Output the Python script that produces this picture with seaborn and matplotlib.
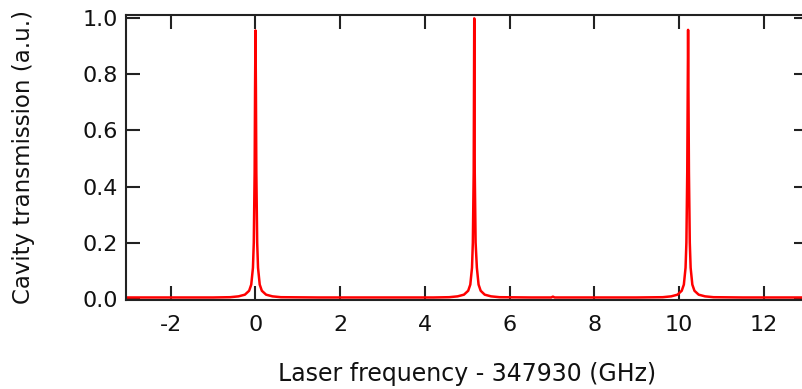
import matplotlib
matplotlib.use("Agg")
import matplotlib.pyplot as plt
import seaborn as sns
import pandas as pd

# cavity transmission trace (three resonances)
freq_ghz = [
    -3.06, -2.0, -1.0, -0.6, -0.4, -0.25, -0.15, -0.10, -0.06, -0.04, -0.02, -0.01,
    0.0, 0.01, 0.02, 0.04, 0.06, 0.10, 0.15, 0.25, 0.4, 0.6,
    1.5, 3.0, 4.2, 4.57, 4.77, 4.92, 5.02, 5.07, 5.11, 5.13, 5.15, 5.163,
    5.175, 5.195, 5.225, 5.265, 5.315, 5.41, 5.56, 5.76,
    6.5, 6.98, 7.02, 7.06, 8.0, 9.0, 9.61, 9.81, 9.96, 10.06, 10.11, 10.15,
    10.17, 10.19, 10.21, 10.23, 10.25, 10.27, 10.31, 10.36, 10.46, 10.61, 10.81,
    11.5, 12.3, 13.1,
]
transmission = [
    0.004, 0.004, 0.004, 0.005, 0.008, 0.014, 0.028, 0.05, 0.11, 0.2, 0.45, 0.75,
    0.957, 0.75, 0.45, 0.2, 0.11, 0.05, 0.028, 0.014, 0.008, 0.005,
    0.004, 0.004, 0.004, 0.005, 0.008, 0.014, 0.028, 0.05, 0.11, 0.2, 0.45, 1.0,
    0.45, 0.2, 0.11, 0.05, 0.028, 0.014, 0.008, 0.005,
    0.004, 0.004, 0.007, 0.004, 0.004, 0.004, 0.005, 0.008, 0.014, 0.028, 0.05, 0.11,
    0.2, 0.45, 0.959, 0.45, 0.2, 0.11, 0.05, 0.028, 0.014, 0.008, 0.005,
    0.004, 0.004, 0.004,
]
x_ticks = [-2, 0, 2, 4, 6, 8, 10, 12]
y_ticks = [0.0, 0.2, 0.4, 0.6, 0.8, 1.0]

df = pd.DataFrame({"freq": freq_ghz, "trans": transmission})

sns.set_theme(style="ticks")
plt.rcParams["font.family"] = ["DejaVu Sans"]

fig = plt.figure(figsize=(8.02, 3.89), dpi=100)
# right edge of the frame lies just outside the picture, as in the reference
ax = fig.add_axes([126 / 802, 89 / 389, (808 - 126) / 802, 285 / 389])

sns.lineplot(data=df, x="freq", y="trans", color="#ff0000", linewidth=1.8, ax=ax)

ax.set_xlim(-3.056, 13.04)
ax.set_ylim(-0.005, 1.012)
ax.set_xticks(x_ticks)
ax.set_yticks(y_ticks)
ax.set_xticklabels([str(v) for v in x_ticks])
ax.set_yticklabels([f"{v:.1f}" for v in y_ticks])

for side in ["left", "bottom", "top", "right"]:
    ax.spines[side].set_visible(True)
    ax.spines[side].set_color("#222222")
    ax.spines[side].set_linewidth(1.5)

ax.tick_params(axis="both", which="both", direction="in", length=10, width=1.5,
               color="#222222", labelsize=16, labelcolor="#111111",
               top=True, right=True)
ax.tick_params(axis="x", pad=11)
ax.tick_params(axis="y", pad=6)

ax.set_xlabel("Laser frequency - 347930 (GHz)", fontsize=17, color="#111111", labelpad=19)
ax.set_ylabel("Cavity transmission (a.u.)", fontsize=16.5, color="#111111", labelpad=34)

fig.savefig("out.png", dpi=100)
plt.close(fig)
